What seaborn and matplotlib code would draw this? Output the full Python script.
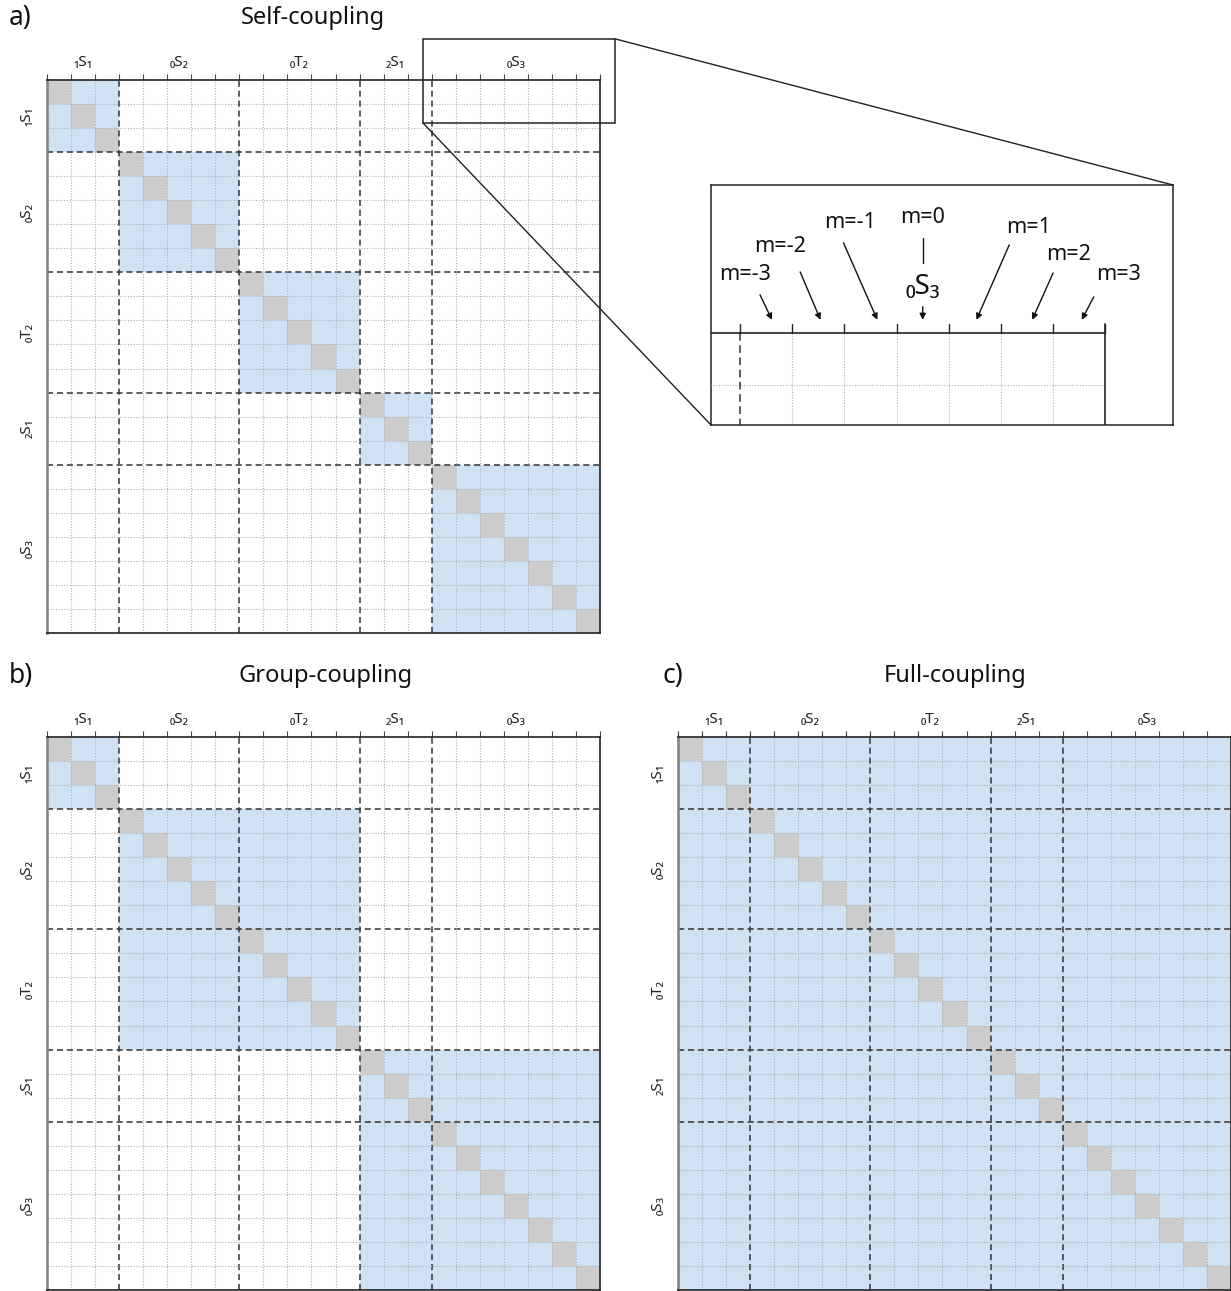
import numpy as np
import pandas as pd
import seaborn as sns
import matplotlib
import matplotlib.pyplot as plt
from matplotlib.colors import ListedColormap
from matplotlib.patches import Rectangle, ConnectionPatch

# ---------------- data ----------------
groups = ["₁S₁", "₀S₂", "₀T₂", "₂S₁", "₀S₃"]
group_sizes = [3, 5, 5, 3, 7]
self_blocks = [0, 1, 2, 3, 4]      # each group coupled only to itself
group_blocks = [0, 1, 1, 2, 2]     # coupled groups share a block id
full_blocks = [0, 0, 0, 0, 0]      # everything coupled
panel_titles = ["Self-coupling", "Group-coupling", "Full-coupling"]
panel_letters = ["a)", "b)", "c)"]
m_labels = ["m=-3", "m=-2", "m=-1", "m=0", "m=1", "m=2", "m=3"]
zoom_group = "₀S₃"

# value codes: 0 = uncoupled, 1 = coupled, 2 = diagonal (self term)
def coupling_matrix(blocks):
    member = np.repeat(blocks, group_sizes)
    mat = (member[:, None] == member[None, :]).astype(float)
    np.fill_diagonal(mat, 2)
    return pd.DataFrame(mat)

mats = [coupling_matrix(b) for b in (self_blocks, group_blocks, full_blocks)]

# ---------------- style ----------------
sns.set_style("white")
plt.rcParams["font.family"] = ["Noto Sans", "DejaVu Sans"]

BLUE = "#cfe2f3"
GREY = "#cccccc"
cmap = ListedColormap(["white", BLUE, GREY])
DASH_C = "#333333"
DOT_C = "#b0b0b0"

W, H = 1231, 1291
fig = plt.figure(figsize=(W / 100, H / 100), dpi=100)


def box(l, t, r, b):
    return [l / W, 1 - b / H, (r - l) / W, (b - t) / H]


edges = np.cumsum([0] + group_sizes)
n = int(edges[-1])
centers = (edges[:-1] + edges[1:]) / 2


def draw_matrix(ax, mat):
    sns.heatmap(mat, ax=ax, cmap=cmap, vmin=0, vmax=2, cbar=False,
                xticklabels=False, yticklabels=False)
    for k in range(1, n):
        if k in edges:
            kw = dict(color=DASH_C, lw=1.1, ls=(0, (4, 2.5)))
        else:
            kw = dict(color=DOT_C, lw=0.8, ls=(0, (1, 1.5)))
        ax.axvline(k, **kw, zorder=3)
        ax.axhline(k, **kw, zorder=3)
    ax.set_xticks(centers)
    ax.set_xticklabels(groups)
    ax.set_yticks(centers)
    ax.set_yticklabels(groups, rotation=90, va="center")
    ax.set_xticks(np.arange(n + 1), minor=True)
    ax.set_yticks(np.arange(n + 1), minor=True)
    ax.xaxis.tick_top()
    ax.tick_params(which="major", length=0, labelsize=11, colors="#222222")
    ax.tick_params(axis="x", which="major", pad=7)
    ax.tick_params(axis="y", which="major", pad=9)
    ax.tick_params(which="minor", length=4, width=0.8, color="#444444",
                   direction="out")
    for side, sp in ax.spines.items():
        sp.set_visible(True)
        sp.set_zorder(5)
        if side == "left":
            sp.set_color("#808080")
            sp.set_linewidth(1.8)
        else:
            sp.set_color("#222222")
            sp.set_linewidth(1.2)


panel_boxes = [(47, 80, 600, 633), (47, 737, 600, 1290), (678, 737, 1231, 1290)]
title_pos = [(313, 18), (326, 676), (955, 676)]
letter_pos = [(9, 18), (9, 676), (662, 676)]

axes = []
for mat, pb, title, tp, letter, lp in zip(mats, panel_boxes, panel_titles,
                                          title_pos, panel_letters, letter_pos):
    ax = fig.add_axes(box(*pb))
    draw_matrix(ax, mat)
    fig.text(tp[0] / W, 1 - tp[1] / H, title, ha="center", va="center",
             fontsize=17, color="#111111")
    fig.text(lp[0] / W, 1 - lp[1] / H, letter, ha="left", va="center",
             fontsize=19, color="#111111")
    axes.append(ax)

ax_a = axes[0]

# ---------------- zoom inset ----------------
ax_z = fig.add_axes(box(711, 185, 1173, 425))
sns.heatmap(mats[0], ax=ax_z, cmap=cmap, vmin=0, vmax=2, cbar=False,
            xticklabels=False, yticklabels=False)
zx0, zx1, zy0, zy1 = 15.44, 24.3, -2.84, 1.77
ax_z.set_xlim(zx0, zx1)
ax_z.set_ylim(zy1, zy0)
ax_z.set_xticks([])
ax_z.set_yticks([])
for sp in ax_z.spines.values():
    sp.set_visible(True)
    sp.set_color("#222222")
    sp.set_linewidth(1.1)

for k in range(1, n):
    if k in edges:
        kw = dict(color=DASH_C, lw=1.1, ls=(0, (5, 3)))
    else:
        kw = dict(color=DOT_C, lw=0.8, ls=(0, (1, 1.5)))
    ax_z.plot([k, k], [0, n], **kw, zorder=3)
    ax_z.plot([0, n], [k, k], **kw, zorder=3)
for k in range(n + 1):
    ax_z.plot([k, k], [-0.17, 0], color="#222222", lw=1.0, zorder=4)
ax_z.plot([0, n], [0, 0], color="#222222", lw=1.2, zorder=4)
ax_z.plot([n, n], [-0.17, n], color="#222222", lw=1.2, zorder=4)

zoom_start = int(edges[-2])
cell_c = zoom_start + 0.5 + np.arange(len(m_labels))
# label text positions, arrow start and arrow tip offsets (relative to cell centre)
text_xy = [(-0.40, -1.12), (-0.73, -1.65), (-0.39, -2.12), (0.0, -2.21),
           (1.03, -2.02), (0.80, -1.50), (0.76, -1.12)]
arrow_from = [(-0.12, -0.73), (-0.35, -1.17), (-0.52, -1.73), None,
              (0.66, -1.69), (0.50, -1.15), (0.28, -0.69)]
tip_dx = [0.11, 0.04, 0.13, 0.0, 0.03, 0.1, 0.05]
tip_y = -0.25
for c, lab, txy, af, dx in zip(cell_c, m_labels, text_xy, arrow_from, tip_dx):
    ax_z.text(c + txy[0], txy[1], lab, ha="center", va="center", fontsize=15.5,
              color="#111111")
    if af is None:
        ax_z.plot([c, c], [-1.83, -1.35], color="#111111", lw=1.0)
        ax_z.text(c, -0.88, zoom_group, ha="center", va="center",
                  fontsize=20, color="#111111")
        ax_z.annotate("", xy=(c, tip_y), xytext=(c, -0.5),
                      arrowprops=dict(arrowstyle="-|>", color="#111111",
                                      lw=1.0, mutation_scale=9,
                                      shrinkA=0, shrinkB=0))
    else:
        ax_z.annotate("", xy=(c + dx, tip_y), xytext=(c + af[0], af[1]),
                      arrowprops=dict(arrowstyle="-|>", color="#111111",
                                      lw=1.0, mutation_scale=9,
                                      shrinkA=0, shrinkB=0))

# zoom rectangle on panel a and connectors
rx0, ry0, rx1, ry1 = 15.64, -1.71, 23.63, 1.79
ax_a.add_patch(Rectangle((rx0, ry0), rx1 - rx0, ry1 - ry0, fill=False,
                         edgecolor="#222222", lw=1.1, clip_on=False, zorder=6))
for xyA, xyB in [((rx1, ry0), (1, 1)), ((rx0, ry1), (0, 0))]:
    con = ConnectionPatch(xyA=xyA, coordsA=ax_a.transData, xyB=xyB,
                          coordsB=ax_z.transAxes, color="#222222", lw=1.0)
    fig.add_artist(con)

fig.savefig("out.png", dpi=100)
